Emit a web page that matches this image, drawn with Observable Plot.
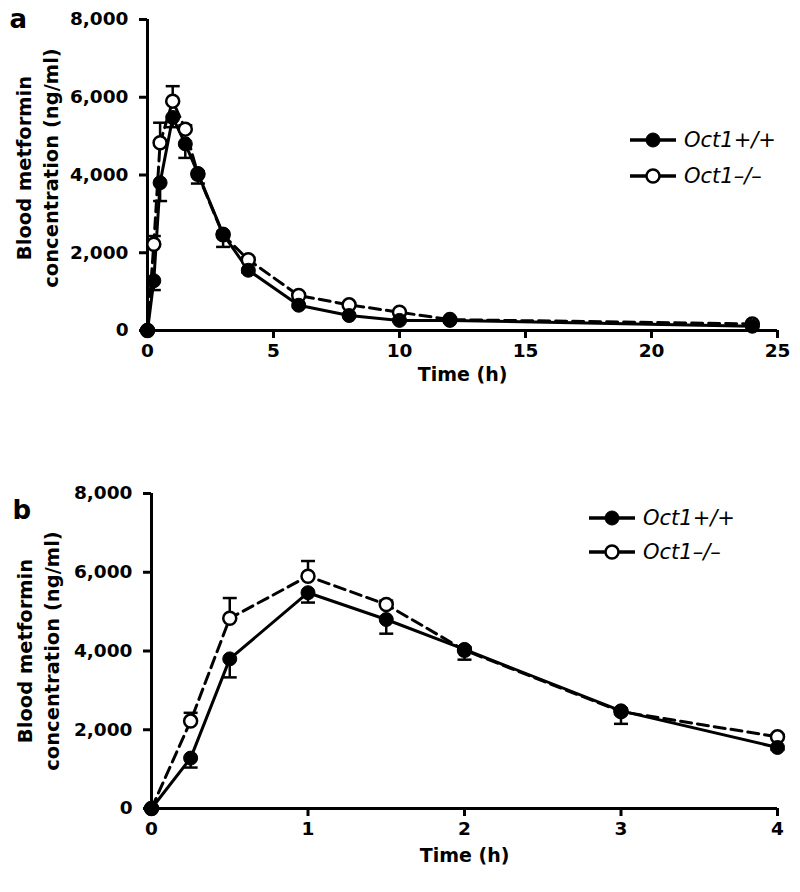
<!DOCTYPE html>
<html><head><meta charset="utf-8">
<script src="https://cdn.jsdelivr.net/npm/d3@7"></script>
<script src="https://cdn.jsdelivr.net/npm/@observablehq/plot@0.6"></script>
<style>
body{margin:0;background:#fff;}
#wrap{position:relative;width:800px;height:892px;overflow:hidden;}
#wrap > svg{position:absolute;left:0;}
</style></head><body><div id="wrap"></div>
<script>
// ---- data ----
const timeH  = [0, 0.25, 0.5, 1, 1.5, 2, 3, 4, 6, 8, 10, 12, 24];
const wtMean = [0, 1280, 3800, 5480, 4800, 4040, 2480, 1550, 650, 385, 260, 260, 110];
const koMean = [0, 2220, 4830, 5900, 5180, 4020, 2460, 1820, 900, 660, 470, 280, 170];
const wtSem  = [0, 240, 470, 250, 360, 260, 330, 60, 50, 40, 30, 30, 20];
const koSem  = [0, 210, 515, 385, 100, 80, 80, 60, 50, 40, 30, 30, 20];
const yTicks  = [0, 2000, 4000, 6000, 8000];
const xTicksA = [0, 5, 10, 15, 20, 25];
const xTicksB = [0, 1, 2, 3, 4];
const seriesNames = ["Oct1+/+", "Oct1\u2013/\u2013"];
const panelLetters = ["a", "b"];
const yLabel = "Blood metformin\nconcentration (ng/ml)";
const xLabel = "Time (h)";

const rows = timeH.flatMap((t, i) => [
  {t, y: wtMean[i], end: wtMean[i] - wtSem[i], g: "WT"},
  {t, y: koMean[i], end: koMean[i] + koSem[i], g: "KO"}
]);

const capSymbol = {draw(ctx, size) { const w = Math.sqrt(size / Math.PI); ctx.moveTo(-w, 0); ctx.lineTo(w, 0); }};

function panel(o) {
  const data = rows.filter(d => d.t <= o.xMax);
  const wt = data.filter(d => d.g === "WT");
  const ko = data.filter(d => d.g === "KO");
  const err = data.filter(d => d.t > 0);
  const svg = Plot.plot({
    width: 800, height: o.height,
    marginLeft: o.ml, marginRight: 23, marginTop: o.mt, marginBottom: o.mb,
    style: {fontFamily: "DejaVu Sans", fontSize: "18.5px", fontWeight: "bold", color: "black", background: "white"},
    x: {domain: [0, o.xMax]},
    y: {domain: [0, 8000]},
    marks: [
      Plot.axisY({ticks: yTicks, tickFormat: d3.format(","), tickSize: 8, tickPadding: 11, strokeWidth: 3, label: null}),
      Plot.axisX({ticks: o.xTicks, tickFormat: d => d, tickSize: 8, tickPadding: 5, strokeWidth: 3, label: null}),
      Plot.ruleX([0], {y1: 0, y2: 8000, stroke: "black", strokeWidth: 3}),
      Plot.ruleY([0], {x1: 0, x2: o.xMax, stroke: "black", strokeWidth: 3}),
      Plot.ruleX(err, {x: "t", y1: "y", y2: "end", stroke: "black", strokeWidth: 2.5}),
      Plot.dot(err, {x: "t", y: "end", symbol: capSymbol, r: 7, fill: "none", stroke: "black", strokeWidth: 2.5}),
      Plot.line(ko, {x: "t", y: "y", stroke: "black", strokeWidth: 3, strokeDasharray: "11,6"}),
      Plot.line(wt, {x: "t", y: "y", stroke: "black", strokeWidth: 3}),
      Plot.dot(ko, {x: "t", y: "y", r: 6.5, fill: "white", stroke: "black", strokeWidth: 2.5}),
      Plot.dot(wt, {x: "t", y: "y", r: 7, fill: "black", stroke: "black", strokeWidth: 1}),
      Plot.text([xLabel], {frameAnchor: "bottom", dy: o.xlDy, fontSize: 19, fontWeight: "bold"}),
      Plot.text([yLabel], {frameAnchor: "left", textAnchor: "middle", lineAnchor: "middle", rotate: -90, dx: o.ylDx, dy: o.ylDy, lineHeight: 1.4, fontSize: 19.5, fontWeight: "bold"}),
      Plot.text([o.letter], {frameAnchor: "top-left", textAnchor: "start", lineAnchor: "bottom", dx: o.letDx, dy: o.letDy, fontSize: 26, fontWeight: "bold"})
    ]
  });
  svg.style.top = o.top + "px";
  // legend
  const g = d3.select(svg).append("g").attr("font-family", "DejaVu Sans").attr("font-style", "italic")
    .attr("font-weight", "normal").attr("font-size", 21).attr("text-anchor", "start");
  o.legendRows.forEach((ly, i) => {
    g.append("line").attr("x1", o.legX0).attr("x2", o.legX0 + 46).attr("y1", ly).attr("y2", ly).attr("stroke", "black").attr("stroke-width", 3.5);
    g.append("circle").attr("cx", o.legX0 + 23).attr("cy", ly).attr("r", i === 0 ? 7 : 6.5)
      .attr("fill", i === 0 ? "black" : "white").attr("stroke", "black").attr("stroke-width", i === 0 ? 1 : 2.5);
    g.append("text").attr("x", o.legX0 + 54).attr("y", ly).attr("dy", "0.35em").attr("fill", "black")
      .attr("text-anchor", "start").style("font-weight", "normal").style("font-style", "italic").text(seriesNames[i]);
  });
  document.getElementById("wrap").appendChild(svg);
}

panel({xMax: 25, xTicks: xTicksA, height: 440, top: 0, ml: 147, mt: 19, mb: 110,
  xlDy: 50, ylDx: -112, ylDy: -7, letter: panelLetters[0], letDx: -138, letDy: 8,
  legX0: 630, legendRows: [140, 176]});
panel({xMax: 4, xTicks: xTicksB, height: 452, top: 440, ml: 151, mt: 53, mb: 84,
  xlDy: 53, ylDx: -115, ylDy: 0, letter: panelLetters[1], letDx: -139, letDy: 25,
  legX0: 589, legendRows: [78, 112]});
</script></body></html>
